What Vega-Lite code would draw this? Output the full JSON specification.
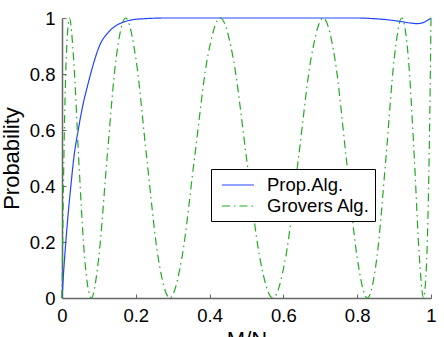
{
  "$schema": "https://vega.github.io/schema/vega-lite/v6.json",
  "autosize": "none",
  "padding": {"left": 62, "top": 18, "right": 13, "bottom": 39},
  "width": 369,
  "height": 280,
  "background": "white",
  "config": {
    "view": {"stroke": null},
    "font": "Liberation Sans",
    "axis": {"grid": false, "domainColor": "#666666", "domainWidth": 1.5, "tickColor": "#666666", "tickWidth": 1, "tickSize": -4, "labelFont": "Liberation Sans", "labelFontSize": 18.5, "labelColor": "black", "titleFont": "Liberation Sans", "titleFontSize": 22, "titleFontWeight": "normal", "titleColor": "black"},
    "legend": {"title": null, "orient": "none", "legendX": 149, "legendY": 151, "strokeColor": "black", "fillColor": "white", "padding": 5, "symbolOffset": 11, "symbolType": "M-1.6,0H1.6", "symbolSize": 400, "symbolStrokeWidth": 1.2, "labelFontSize": 18.5, "labelFont": "Liberation Sans", "labelColor": "black", "labelOffset": 18, "rowPadding": 0, "labelLimit": 300}
  },
  "data": {"values": [
    {"s": "Prop.Alg.", "x": 0, "p": 0},
    {"s": "Prop.Alg.", "x": 0.004, "p": 0.085},
    {"s": "Prop.Alg.", "x": 0.008, "p": 0.16},
    {"s": "Prop.Alg.", "x": 0.016, "p": 0.29},
    {"s": "Prop.Alg.", "x": 0.024, "p": 0.4},
    {"s": "Prop.Alg.", "x": 0.032, "p": 0.5},
    {"s": "Prop.Alg.", "x": 0.044, "p": 0.6},
    {"s": "Prop.Alg.", "x": 0.056, "p": 0.685},
    {"s": "Prop.Alg.", "x": 0.071, "p": 0.767},
    {"s": "Prop.Alg.", "x": 0.086, "p": 0.84},
    {"s": "Prop.Alg.", "x": 0.103, "p": 0.905},
    {"s": "Prop.Alg.", "x": 0.125, "p": 0.948},
    {"s": "Prop.Alg.", "x": 0.148, "p": 0.974},
    {"s": "Prop.Alg.", "x": 0.17, "p": 0.987},
    {"s": "Prop.Alg.", "x": 0.193, "p": 0.994},
    {"s": "Prop.Alg.", "x": 0.23, "p": 0.998},
    {"s": "Prop.Alg.", "x": 0.28, "p": 1},
    {"s": "Prop.Alg.", "x": 0.4, "p": 1},
    {"s": "Prop.Alg.", "x": 0.6, "p": 1},
    {"s": "Prop.Alg.", "x": 0.8, "p": 1},
    {"s": "Prop.Alg.", "x": 0.84, "p": 0.998},
    {"s": "Prop.Alg.", "x": 0.88, "p": 0.994},
    {"s": "Prop.Alg.", "x": 0.92, "p": 0.987},
    {"s": "Prop.Alg.", "x": 0.945, "p": 0.982},
    {"s": "Prop.Alg.", "x": 0.962, "p": 0.98},
    {"s": "Prop.Alg.", "x": 0.975, "p": 0.982},
    {"s": "Prop.Alg.", "x": 0.988, "p": 0.99},
    {"s": "Prop.Alg.", "x": 1, "p": 1},
    {"s": "Grovers Alg.", "x": 0, "p": 0},
    {"s": "Grovers Alg.", "x": 0.00127, "p": 0.14645},
    {"s": "Grovers Alg.", "x": 0.00509, "p": 0.5},
    {"s": "Grovers Alg.", "x": 0.01142, "p": 0.85355},
    {"s": "Grovers Alg.", "x": 0.02025, "p": 1},
    {"s": "Grovers Alg.", "x": 0.03153, "p": 0.85355},
    {"s": "Grovers Alg.", "x": 0.04518, "p": 0.5},
    {"s": "Grovers Alg.", "x": 0.06115, "p": 0.14645},
    {"s": "Grovers Alg.", "x": 0.07937, "p": 0},
    {"s": "Grovers Alg.", "x": 0.09973, "p": 0.14645},
    {"s": "Grovers Alg.", "x": 0.12213, "p": 0.5},
    {"s": "Grovers Alg.", "x": 0.14645, "p": 0.85355},
    {"s": "Grovers Alg.", "x": 0.17257, "p": 1},
    {"s": "Grovers Alg.", "x": 0.20036, "p": 0.85355},
    {"s": "Grovers Alg.", "x": 0.22968, "p": 0.5},
    {"s": "Grovers Alg.", "x": 0.26038, "p": 0.14645},
    {"s": "Grovers Alg.", "x": 0.29229, "p": 0},
    {"s": "Grovers Alg.", "x": 0.32527, "p": 0.14645},
    {"s": "Grovers Alg.", "x": 0.35914, "p": 0.5},
    {"s": "Grovers Alg.", "x": 0.39372, "p": 0.85355},
    {"s": "Grovers Alg.", "x": 0.42885, "p": 1},
    {"s": "Grovers Alg.", "x": 0.46434, "p": 0.85355},
    {"s": "Grovers Alg.", "x": 0.5, "p": 0.5},
    {"s": "Grovers Alg.", "x": 0.53566, "p": 0.14645},
    {"s": "Grovers Alg.", "x": 0.57115, "p": 0},
    {"s": "Grovers Alg.", "x": 0.60628, "p": 0.14645},
    {"s": "Grovers Alg.", "x": 0.64086, "p": 0.5},
    {"s": "Grovers Alg.", "x": 0.67473, "p": 0.85355},
    {"s": "Grovers Alg.", "x": 0.70771, "p": 1},
    {"s": "Grovers Alg.", "x": 0.73962, "p": 0.85355},
    {"s": "Grovers Alg.", "x": 0.77032, "p": 0.5},
    {"s": "Grovers Alg.", "x": 0.79964, "p": 0.14645},
    {"s": "Grovers Alg.", "x": 0.82743, "p": 0},
    {"s": "Grovers Alg.", "x": 0.85355, "p": 0.14645},
    {"s": "Grovers Alg.", "x": 0.87787, "p": 0.5},
    {"s": "Grovers Alg.", "x": 0.90027, "p": 0.85355},
    {"s": "Grovers Alg.", "x": 0.92063, "p": 1},
    {"s": "Grovers Alg.", "x": 0.93885, "p": 0.85355},
    {"s": "Grovers Alg.", "x": 0.95482, "p": 0.5},
    {"s": "Grovers Alg.", "x": 0.96847, "p": 0.14645},
    {"s": "Grovers Alg.", "x": 0.97975, "p": 0},
    {"s": "Grovers Alg.", "x": 0.98858, "p": 0.14645},
    {"s": "Grovers Alg.", "x": 0.99491, "p": 0.5},
    {"s": "Grovers Alg.", "x": 0.99873, "p": 0.85355},
    {"s": "Grovers Alg.", "x": 1, "p": 1}
  ]},
  "mark": {"type": "line", "interpolate": "monotone", "strokeWidth": 1.2},
  "encoding": {
    "x": {"field": "x", "type": "quantitative", "scale": {"domain": [0, 1], "nice": false},
      "axis": {"title": "M/N", "values": [0, 0.2, 0.4, 0.6, 0.8, 1], "format": "~g", "labelFlush": false, "labelPadding": 12, "titleY": 48, "titleBaseline": "alphabetic"}},
    "y": {"field": "p", "type": "quantitative", "scale": {"domain": [0, 1], "nice": false},
      "axis": {"title": "Probability", "values": [0, 0.2, 0.4, 0.6, 0.8, 1], "format": "~g", "labelPadding": 11, "titlePadding": 6}},
    "color": {"field": "s", "type": "nominal", "sort": ["Prop.Alg.", "Grovers Alg."],
      "scale": {"domain": ["Prop.Alg.", "Grovers Alg."], "range": ["#2244ff", "#22aa22"]}},
    "strokeDash": {"field": "s", "type": "nominal", "sort": ["Prop.Alg.", "Grovers Alg."],
      "scale": {"domain": ["Prop.Alg.", "Grovers Alg."], "range": [[1, 0], [8, 4, 1.5, 4]]}}
  }
}
